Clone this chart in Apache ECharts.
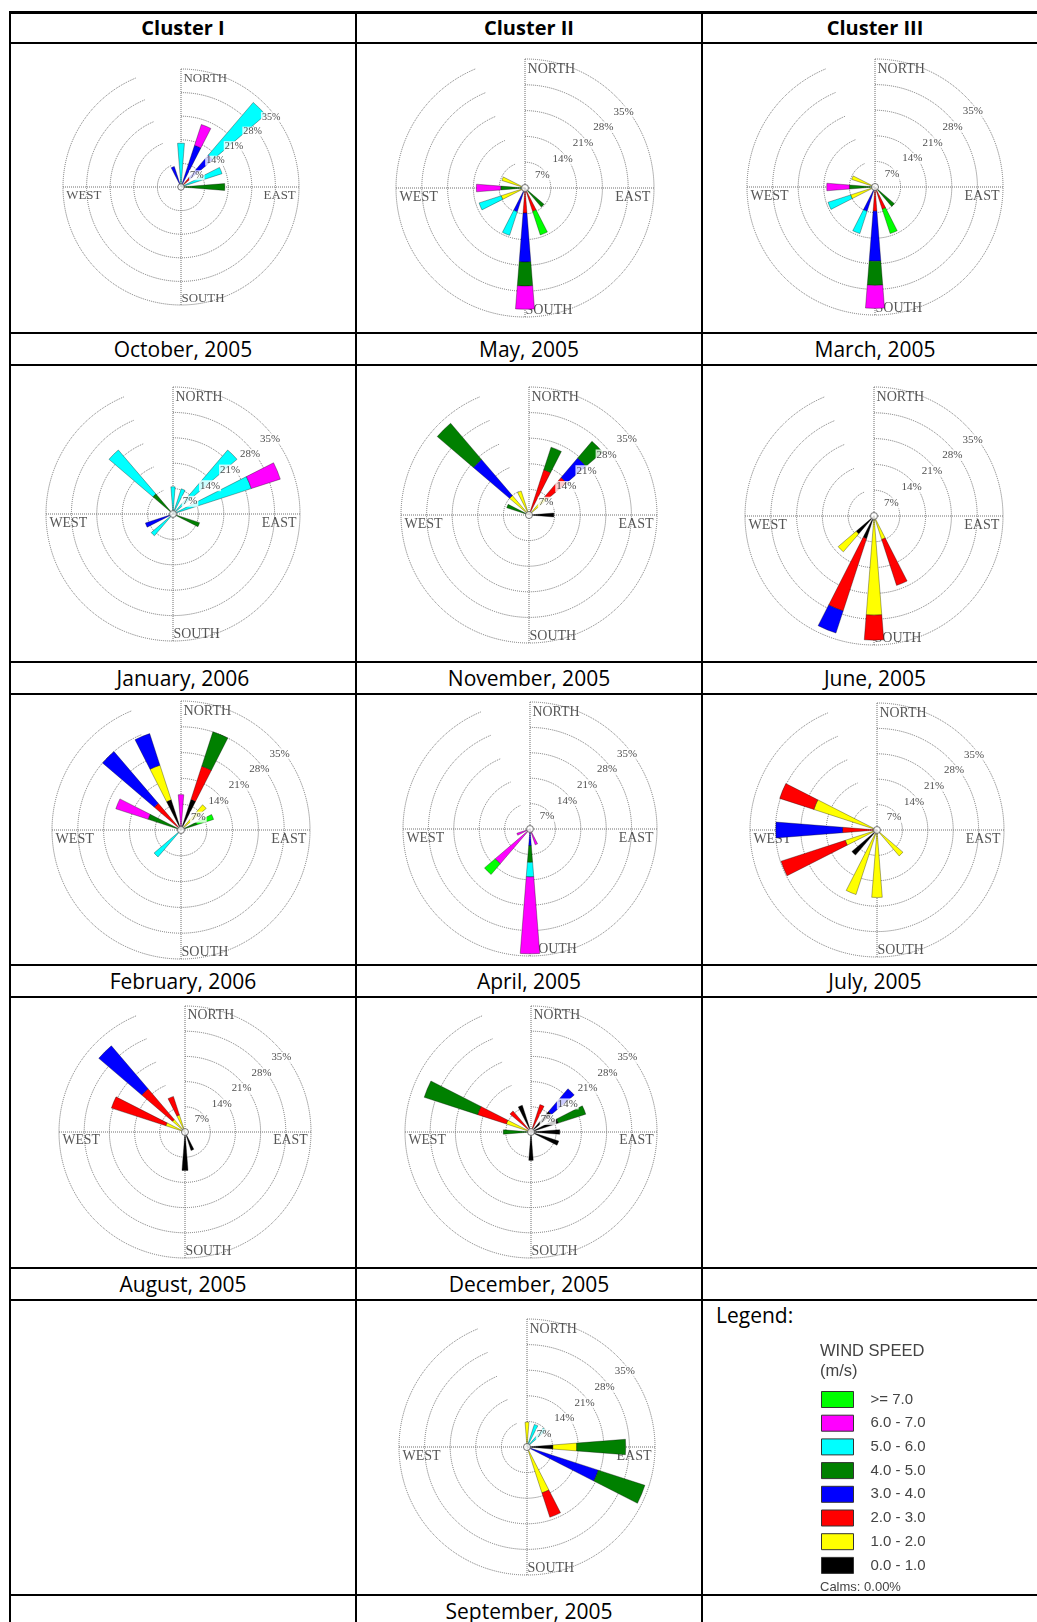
<!DOCTYPE html>
<html>
<head>
<meta charset="utf-8">
<script src="https://cdn.jsdelivr.net/npm/echarts@6/dist/echarts.min.js"></script>
<style>
  body { margin: 0; background: #fff; width: 1037px; height: 1622px; overflow: hidden; position: relative; font-family: 'Open Sans', sans-serif; }
  .chart { position: absolute; }
  .line { position: absolute; background: #000; z-index: 5; }
  .txt { position: absolute; text-align: center; color: #000; white-space: nowrap; }
  .head { font-weight: bold; font-size: 20px; }
  .cap { font-size: 21px; }
</style>
</head>
<body>
<script>
// ============================================================
// data
// ============================================================
const directions = ['N', 'NNE', 'NE', 'ENE', 'E', 'ESE', 'SE', 'SSE', 'S', 'SSW', 'SW', 'WSW', 'W', 'WNW', 'NW', 'NNW'];
const speedBins = ['0.0 - 1.0', '1.0 - 2.0', '2.0 - 3.0', '3.0 - 4.0', '4.0 - 5.0', '5.0 - 6.0', '6.0 - 7.0', '>= 7.0'];
const ringTicks = [7, 14, 21, 28, 35];
const compassNames = ['NORTH', 'EAST', 'SOUTH', 'WEST'];
const compassAngles = [0, 90, 180, 270];
const columnTitles = ['Cluster I', 'Cluster II', 'Cluster III'];

// rows: [direction, 0-1, 1-2, 2-3, 3-4, 4-5, 5-6, 6-7, >=7]  (% of time, stacked outward)
const oct2005 = [
  ['N', 0, 0, 0, 0, 0, 13, 0, 0],
  ['NNE', 0, 0, 0, 13, 0, 0, 6.5, 0],
  ['NE', 0, 0, 3.5, 9, 0, 20.5, 0, 0],
  ['ENE', 0, 0, 0, 0, 0, 12.8, 0, 0],
  ['E', 0, 0, 0, 0, 13, 0, 0, 0],
  ['NNW', 0, 0, 0, 6.4, 0, 0, 0, 0]
];
const may2005 = [
  ['SE', 0, 0, 0, 0, 6.8, 0, 0, 0],
  ['SSE', 0, 0, 6.7, 0, 0, 0, 0, 6.7],
  ['S', 0, 0, 6.8, 13.3, 6.5, 0, 6.3, 0],
  ['SSW', 0, 0, 0, 6.8, 0, 6.7, 0, 0],
  ['WSW', 0, 6.8, 0, 0, 0, 6.3, 0, 0],
  ['W', 0, 0, 0, 0, 6.6, 0, 6.6, 0],
  ['WNW', 0, 6.6, 0, 0, 0, 0, 0, 0]
];
const mar2005 = [
  ['SE', 0, 0, 0, 0, 7, 0, 0, 0],
  ['SSE', 0, 0, 6.4, 0, 0, 0, 0, 7],
  ['S', 0, 0, 6.6, 13.7, 6.6, 0, 6.3, 0],
  ['SSW', 0, 0, 0, 7, 0, 6.4, 0, 0],
  ['WSW', 0, 7, 0, 0, 0, 6.5, 0, 0],
  ['W', 0, 0, 0, 0, 7, 0, 6.2, 0],
  ['WNW', 0, 6.7, 0, 0, 0, 0, 0, 0]
];
const jan2006 = [
  ['N', 0, 0, 0, 0, 0, 7.5, 0, 0],
  ['NNE', 0, 0, 0, 0, 0, 7.3, 0, 0],
  ['NE', 0, 0, 0, 0, 0, 23.2, 0, 0],
  ['ENE', 0, 0, 0, 0, 0, 22.7, 8.4, 0],
  ['ESE', 0, 0, 0, 0, 7.7, 0, 0, 0],
  ['SW', 0, 0, 0, 0, 0, 7.9, 0, 0],
  ['WSW', 0, 0, 0, 8, 0, 0, 0, 0],
  ['NW', 0, 0, 0, 0, 7.3, 15.9, 0, 0]
];
const nov2005 = [
  ['NNE', 0, 0, 13, 0, 6.5, 0, 0, 0],
  ['NE', 0, 6.5, 7, 7, 6, 0, 0, 0],
  ['E', 6.8, 0, 0, 0, 0, 0, 0, 0],
  ['WNW', 0, 0, 0, 0, 6.4, 0, 0, 0],
  ['NW', 0, 7, 0, 13, 13, 0, 0, 0],
  ['NNW', 0, 6.9, 0, 0, 0, 0, 0, 0]
];
const jun2005 = [
  ['SSE', 0, 6.7, 13.1, 0, 0, 0, 0, 0],
  ['S', 0, 26.9, 6.8, 0, 0, 0, 0, 0],
  ['SSW', 6.5, 0, 20.6, 6.3, 0, 0, 0, 0],
  ['SW', 6.4, 6.4, 0, 0, 0, 0, 0, 0]
];
const feb2006 = [
  ['N', 0, 0, 0, 0, 0, 0, 9.6, 0],
  ['NNE', 8.7, 0, 9.5, 0, 9.8, 0, 0, 0],
  ['NE', 0, 9, 0, 0, 0, 0, 0, 0],
  ['ENE', 0, 0, 0, 0, 4.6, 0, 0, 4.7],
  ['SW', 0, 0, 0, 0, 0, 9.6, 0, 0],
  ['WNW', 0, 0, 0, 0, 9.4, 0, 9.2, 0],
  ['NW', 0, 0, 9.5, 18.5, 0, 0, 0, 0],
  ['NNW', 8.6, 9.9, 0, 9, 0, 0, 0, 0]
];
const apr2005 = [
  ['SSE', 0, 0, 0, 0, 0, 0, 4.6, 0],
  ['S', 0, 0, 0, 4.6, 4.6, 4, 21.2, 0],
  ['SW', 0, 0, 0, 0, 0, 0, 12.6, 3.9],
  ['WSW', 0, 0, 0, 0, 0, 0, 3.8, 0]
];
const jul2005 = [
  ['SE', 0, 9.4, 0, 0, 0, 0, 0, 0],
  ['S', 0, 18.6, 0, 0, 0, 0, 0, 0],
  ['SSW', 0, 18.7, 0, 0, 0, 0, 0, 0],
  ['SW', 9.1, 0, 0, 0, 0, 0, 0, 0],
  ['WSW', 0, 9.2, 18.6, 0, 0, 0, 0, 0],
  ['W', 0, 0, 9.5, 18.4, 0, 0, 0, 0],
  ['WNW', 0, 18.3, 9.9, 0, 0, 0, 0, 0]
];
const aug2005 = [
  ['SSE', 5.4, 0, 0, 0, 0, 0, 0, 0],
  ['S', 10.7, 0, 0, 0, 0, 0, 0, 0],
  ['WNW', 0, 5.6, 15.9, 0, 0, 0, 0, 0],
  ['NW', 0, 4.6, 11.2, 15.7, 0, 0, 0, 0],
  ['NNW', 0, 5, 5.4, 0, 0, 0, 0, 0]
];
const dec2005 = [
  ['NNE', 0, 0, 8, 0, 0, 0, 0, 0],
  ['NE', 7.5, 0, 0, 8.3, 0, 0, 0, 0],
  ['ENE', 8, 0, 0, 0, 8, 0, 0, 0],
  ['E', 8, 0, 0, 0, 0, 0, 0, 0],
  ['ESE', 8.1, 0, 0, 0, 0, 0, 0, 0],
  ['S', 7.9, 0, 0, 0, 0, 0, 0, 0],
  ['W', 0, 0, 0, 0, 7.7, 0, 0, 0],
  ['WNW', 0, 7.2, 8.4, 0, 15.6, 0, 0, 0],
  ['NW', 0, 0, 7.7, 0, 0, 0, 0, 0],
  ['NNW', 7.8, 0, 0, 0, 0, 0, 0, 0]
];
const sep2005 = [
  ['N', 0, 6.8, 0, 0, 0, 0, 0, 0],
  ['NNE', 0, 0, 0, 0, 0, 6.5, 0, 0],
  ['NE', 0, 0, 0, 0, 0, 6.8, 0, 0],
  ['E', 7.1, 6.5, 0, 0, 13.4, 0, 0, 0],
  ['ESE', 0, 0, 0, 20.5, 13.4, 0, 0, 0],
  ['SSE', 0, 13.2, 7, 0, 0, 0, 0, 0]
];

// ============================================================
// layout + styles
// ============================================================
const speedColors = ['#000000', '#ffff00', '#ff0000', '#0000ff', '#008000', '#00ffff', '#ff00ff', '#00ff00'];
const colX = [10, 356, 702, 1048];
const rowTop = [43, 365, 694, 997, 1300];
const rowBottom = [333, 662, 965, 1268, 1595];
const hLines = [43, 333, 365, 662, 694, 965, 997, 1268, 1300, 1595];
const pctAngle = 52;
const gridColor = '#6f6f6f';

const roses = [
  { caption: 'October, 2005', rows: oct2005, row: 0, col: 0, cx: 181, cy: 187, r: 118 },
  { caption: 'May, 2005', rows: may2005, row: 0, col: 1, cx: 525, cy: 188, r: 129 },
  { caption: 'March, 2005', rows: mar2005, row: 0, col: 2, cx: 875, cy: 187, r: 128 },
  { caption: 'January, 2006', rows: jan2006, row: 1, col: 0, cx: 173, cy: 514, r: 127 },
  { caption: 'November, 2005', rows: nov2005, row: 1, col: 1, cx: 529, cy: 515, r: 128 },
  { caption: 'June, 2005', rows: jun2005, row: 1, col: 2, cx: 874, cy: 516, r: 129 },
  { caption: 'February, 2006', rows: feb2006, row: 2, col: 0, cx: 181, cy: 830, r: 129 },
  { caption: 'April, 2005', rows: apr2005, row: 2, col: 1, cx: 530, cy: 829, r: 127 },
  { caption: 'July, 2005', rows: jul2005, row: 2, col: 2, cx: 877, cy: 830, r: 127 },
  { caption: 'August, 2005', rows: aug2005, row: 3, col: 0, cx: 185, cy: 1132, r: 126 },
  { caption: 'December, 2005', rows: dec2005, row: 3, col: 1, cx: 531, cy: 1132, r: 126 },
  { caption: 'September, 2005', rows: sep2005, row: 4, col: 1, cx: 527, cy: 1447, r: 128 }
];

function addDiv(cls, left, top, width, height, text) {
  const d = document.createElement('div');
  d.className = cls;
  d.style.left = left + 'px';
  d.style.top = top + 'px';
  d.style.width = width + 'px';
  d.style.height = height + 'px';
  if (text !== undefined) { d.textContent = text; d.style.lineHeight = height + 'px'; }
  document.body.appendChild(d);
  return d;
}

function roseOption(rose, left, top) {
  const k = rose.r / 128;
  const center = [rose.cx - left, rose.cy - top];
  const outer = ringTicks[ringTicks.length - 1];
  const serif = 'Liberation Serif';

  const bars = speedBins.map((bin, i) => ({
    name: bin,
    type: 'bar',
    coordinateSystem: 'polar',
    polarIndex: 0,
    stack: 'speed',
    barWidth: '40%',
    silent: true,
    z: 3,
    itemStyle: { color: speedColors[i], borderColor: 'rgba(0,0,0,0.55)', borderWidth: 0.6 },
    data: directions.map(d => {
      const row = rose.rows.find(x => x[0] === d);
      return row && row[i + 1] > 0 ? row[i + 1] : '-';
    })
  }));

  // where each compass word sits relative to its point on the outer ring
  const compassLabel = [
    { position: 'right', distance: 2, offset: [0, 10 * k] },
    { position: 'left', distance: 3 * k, offset: [0, 9 * k] },
    { position: 'right', distance: 0, offset: [0, -7 * k] },
    { position: 'right', distance: 3 * k, offset: [0, 9 * k] }
  ];

  return {
    animation: false,
    polar: [
      { center: center, radius: rose.r },
      { center: center, radius: rose.r }
    ],
    angleAxis: [
      {
        polarIndex: 0, type: 'category', data: directions, boundaryGap: false,
        startAngle: 90, clockwise: true,
        axisLine: { show: false }, axisTick: { show: false }, axisLabel: { show: false },
        splitLine: { show: false }
      },
      {
        polarIndex: 1, type: 'value', min: 0, max: 360, interval: 90,
        startAngle: 90, clockwise: true,
        axisLine: { show: false }, axisTick: { show: false }, axisLabel: { show: false },
        splitLine: { show: true, lineStyle: { color: gridColor, type: 'dotted', width: 1 } }
      }
    ],
    radiusAxis: [
      {
        polarIndex: 0, min: 0, max: outer, interval: 7,
        axisLine: { show: false }, axisTick: { show: false }, axisLabel: { show: false },
        splitLine: { show: true, lineStyle: { color: gridColor, type: 'dotted', width: 1 } }
      },
      {
        polarIndex: 1, min: 0, max: outer, interval: 7,
        axisLine: { show: false }, axisTick: { show: false }, axisLabel: { show: false },
        splitLine: { show: false }
      }
    ],
    series: bars.concat([
      {
        type: 'scatter', coordinateSystem: 'polar', polarIndex: 1, silent: true, z: 1,
        symbolSize: 1, itemStyle: { color: 'rgba(0,0,0,0)' },
        data: compassAngles.map((a, i) => ({
          value: [outer, a],
          label: Object.assign({ show: true, formatter: compassNames[i] }, compassLabel[i])
        })),
        label: { fontFamily: serif, fontSize: 14 * k, color: '#2a2a2a' }
      },
      {
        type: 'scatter', coordinateSystem: 'polar', polarIndex: 1, silent: true, z: 6,
        symbolSize: 1, itemStyle: { color: 'rgba(0,0,0,0)' },
        data: ringTicks.map(v => [v, pctAngle]),
        label: {
          show: true, position: 'inside', offset: [-3 * k, 3 * k],
          formatter: p => p.value[0] + '%',
          fontFamily: serif, fontSize: 11 * k, color: '#1a1a1a',
          backgroundColor: '#fff', padding: [0, 1]
        }
      },
      {
        type: 'scatter', coordinateSystem: 'polar', polarIndex: 1, silent: true, z: 7,
        symbol: 'circle', symbolSize: 7 * k,
        itemStyle: { color: '#fff', borderColor: '#555', borderWidth: 1 },
        data: [[0, 0]]
      }
    ])
  };
}

// ============================================================
// roses
// ============================================================
roses.forEach(rose => {
  const left = colX[rose.col] + 1;
  const top = rowTop[rose.row] + 1;
  const width = Math.min(colX[rose.col + 1], 1037) - left;
  const height = rowBottom[rose.row] - top;
  const el = addDiv('chart', left, top, width, height);
  const chart = echarts.init(el);
  chart.setOption(roseOption(rose, left, top));

  const capTop = rowBottom[rose.row];
  addDiv('txt cap', colX[rose.col], capTop, colX[rose.col + 1] - colX[rose.col], 32, rose.caption);
});

// ============================================================
// legend cell
// ============================================================
addDiv('txt cap', 716, 1295, 90, 40, 'Legend:').style.textAlign = 'left';
const legendEl = addDiv('chart', 703, 1301, 334, 293);
const legendChart = echarts.init(legendEl);
legendChart.setOption({
  animation: false,
  title: {
    text: 'WIND SPEED\n(m/s)', left: 117, top: 40, padding: 0,
    textStyle: { fontFamily: 'Liberation Sans', fontSize: 16.5, fontWeight: 'normal', color: '#444', lineHeight: 20 }
  },
  polar: { radius: 0 },
  angleAxis: { type: 'category', data: directions, show: false },
  radiusAxis: { show: false },
  legend: {
    orient: 'vertical', left: 118, top: 90, padding: 0,
    itemWidth: 32, itemHeight: 16, itemGap: 6.7, icon: 'rect',
    selectedMode: false,
    data: speedBins.slice().reverse(),
    itemStyle: { borderColor: '#333', borderWidth: 1 },
    textStyle: { fontFamily: 'Liberation Sans', fontSize: 15, lineHeight: 16, color: '#444', padding: [0, 0, 0, 12] }
  },
  graphic: [{
    type: 'text', left: 117, top: 280,
    style: { text: 'Calms: 0.00%', font: '13px "Liberation Sans"', fill: '#444' }
  }],
  series: speedBins.map((bin, i) => ({
    name: bin, type: 'bar', coordinateSystem: 'polar', data: [],
    itemStyle: { color: speedColors[i] }
  }))
});

// ============================================================
// table header + rules
// ============================================================
columnTitles.forEach((t, c) => {
  addDiv('txt head', colX[c], 13, colX[c + 1] - colX[c], 30, t);
});
addDiv('line', 10, 11, 1040, 3);
hLines.forEach(y => addDiv('line', 10, y - 1, 1040, 2));
colX.slice(0, 3).forEach(x => addDiv('line', x - 1, 11, 2, 1622));
</script>
</body>
</html>
